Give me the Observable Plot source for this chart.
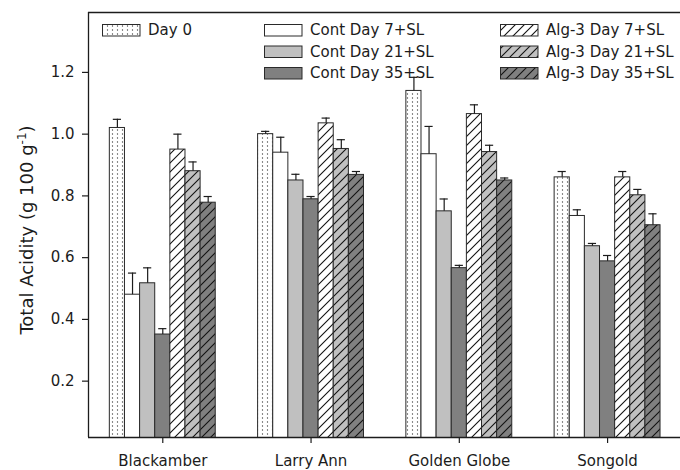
<!DOCTYPE html>
<html>
<head>
<meta charset="utf-8">
<script src="https://cdn.jsdelivr.net/npm/d3@7"></script>
<script src="https://cdn.jsdelivr.net/npm/@observablehq/plot@0.6"></script>
<style>
  html, body { margin: 0; padding: 0; background: #fff; }
  #chart { position: relative; width: 680px; height: 470px; font-family: "DejaVu Sans", sans-serif; }
  #chart > svg { display: block; }
  #legend { position: absolute; left: 0; top: 0; pointer-events: none; }
</style>
</head>
<body>
<div id="chart"></div>
<script>
// Cultivars on the x axis
const categories = ["Blackamber", "Larry Ann", "Golden Globe", "Songold"];

// Treatments, in bar order within each cultivar
const series = [
  "Day 0",
  "Cont Day 7+SL", "Cont Day 21+SL", "Cont Day 35+SL",
  "Alg-3 Day 7+SL", "Alg-3 Day 21+SL", "Alg-3 Day 35+SL"
];

// Total acidity (g 100 g-1), one value per cultivar
const day0    = [1.02, 1.00, 1.14, 0.86];
const cont7   = [0.48, 0.94, 0.935, 0.735];
const cont21  = [0.517, 0.85, 0.75, 0.637];
const cont35  = [0.351, 0.789, 0.566, 0.588];
const alg7    = [0.95, 1.035, 1.065, 0.86];
const alg21   = [0.88, 0.952, 0.942, 0.802];
const alg35   = [0.778, 0.868, 0.85, 0.705];

// Standard errors (upper whiskers)
const day0Err   = [0.028, 0.009, 0.044, 0.019];
const cont7Err  = [0.07, 0.05, 0.09, 0.02];
const cont21Err = [0.05, 0.02, 0.04, 0.009];
const cont35Err = [0.019, 0.009, 0.009, 0.019];
const alg7Err   = [0.05, 0.017, 0.03, 0.019];
const alg21Err  = [0.03, 0.03, 0.022, 0.019];
const alg35Err  = [0.02, 0.011, 0.008, 0.037];

const yTicks = [0.2, 0.4, 0.6, 0.8, 1.0, 1.2];

const seriesValues = [day0, cont7, cont21, cont35, alg7, alg21, alg35];
const seriesErrors = [day0Err, cont7Err, cont21Err, cont35Err, alg7Err, alg21Err, alg35Err];

// Fills: plain greys and SVG patterns (dots, diagonal hatching)
const seriesFills = [
  "url(#dots)", "#ffffff", "#c0c0c0", "#808080",
  "url(#hatch-white)", "url(#hatch-light)", "url(#hatch-dark)"
];

// Layout in bar-width units: 7 adjacent bars per cultivar, then a gap
const BARS = series.length;
const GAP = 2.8;
const STEP = BARS + GAP;
const CAP = 0.27;
const xMin = -1.41;
const xMax = (categories.length - 1) * STEP + BARS + 1.32;
const yMin = 0.0175, yMax = 1.394;

const rows = [];
categories.forEach((c, ci) => {
  series.forEach((s, si) => {
    const x1 = ci * STEP + si;
    rows.push({
      category: c, series: s, si,
      value: seriesValues[si][ci],
      err: seriesErrors[si][ci],
      x1, x2: x1 + 1, xc: x1 + 0.5
    });
  });
});

const ink = "#1c1c1c";

const plot = Plot.plot({
  width: 680,
  height: 470,
  marginLeft: 88,
  marginRight: 0,
  marginTop: 12,
  marginBottom: 33,
  style: {fontFamily: "'DejaVu Sans', sans-serif", fontSize: "15px", color: ink, background: "white", overflow: "visible"},
  x: {type: "linear", domain: [xMin, xMax]},
  y: {domain: [yMin, yMax]},
  marks: [
    ...series.map((s, si) =>
      Plot.rect(rows.filter(r => r.si === si), {
        x1: "x1", x2: "x2", y1: 0, y2: "value",
        fill: seriesFills[si], stroke: "#2a2a2a", strokeWidth: 1, clip: true
      })
    ),
    Plot.ruleX(rows, {x: "xc", y1: "value", y2: d => d.value + d.err, stroke: ink, strokeWidth: 1.2}),
    Plot.ruleY(rows, {y: d => d.value + d.err, x1: d => d.xc - CAP, x2: d => d.xc + CAP, stroke: ink, strokeWidth: 1.2}),
    Plot.axisY({ticks: yTicks, tickFormat: d => d.toFixed(1), tickSize: 6, tickPadding: 8, strokeWidth: 1.2, label: null}),
    Plot.axisX({
      ticks: categories.map((c, i) => i * STEP + BARS / 2),
      tickFormat: d => categories[Math.round((d - BARS / 2) / STEP)],
      tickSize: 6, tickPadding: 12, strokeWidth: 1.2, label: null
    }),
    Plot.ruleX([xMin], {stroke: ink, strokeWidth: 1.3}),
    Plot.ruleY([yMin, yMax], {stroke: ink, strokeWidth: 1.3})
  ]
});

// Pattern definitions used by the bars and the legend swatches
const svg = d3.select(plot);
const defs = svg.insert("defs", ":first-child");

const dots = defs.append("pattern").attr("id", "dots")
  .attr("patternUnits", "userSpaceOnUse").attr("width", 5).attr("height", 4);
dots.append("rect").attr("width", 5).attr("height", 4).attr("fill", "#fff");
dots.append("circle").attr("cx", 2.5).attr("cy", 2).attr("r", 0.65).attr("fill", "#444");

[["hatch-white", "#ffffff"], ["hatch-light", "#c0c0c0"], ["hatch-dark", "#808080"]].forEach(([id, bg]) => {
  const p = defs.append("pattern").attr("id", id)
    .attr("patternUnits", "userSpaceOnUse").attr("width", 9).attr("height", 9);
  p.append("rect").attr("width", 9).attr("height", 9).attr("fill", bg);
  p.append("path").attr("d", "M-1,1L1,-1M0,9L9,0M8,10L10,8")
    .attr("stroke", "#111").attr("stroke-width", 1.1);
});

// Y axis title with superscript unit
const title = svg.append("text")
  .attr("transform", "translate(33,230) rotate(-90)")
  .attr("text-anchor", "middle")
  .attr("font-size", 18)
  .attr("fill", ink);
title.append("tspan").text("Total Acidity (g 100 g");
title.append("tspan").attr("dy", -7).attr("font-size", 12).text("-1");
title.append("tspan").attr("dy", 7).text(")");

const chart = document.getElementById("chart");
chart.appendChild(plot);

// Legend: Day 0 alone, then control and Alg-3 columns
const legendCols = [102, 264, 500];
const legendRows = [30, 51.5, 73];
const legendPlace = [[0, 0], [1, 0], [1, 1], [1, 2], [2, 0], [2, 1], [2, 2]];

const legend = d3.select(chart).append("svg")
  .attr("id", "legend").attr("width", 680).attr("height", 95)
  .style("font-family", "'DejaVu Sans', sans-serif").style("font-size", "15px");

series.forEach((s, si) => {
  const [col, row] = legendPlace[si];
  const x = legendCols[col], cy = legendRows[row];
  const g = legend.append("g");
  g.append("rect").attr("x", x + 0.5).attr("y", cy - 5.5).attr("width", 37.5).attr("height", 11.5)
    .attr("fill", seriesFills[si]).attr("stroke", "#2a2a2a").attr("stroke-width", 1);
  g.append("text").attr("x", x + 46).attr("y", cy).attr("dy", "0.36em")
    .attr("fill", ink).text(s);
});
</script>
</body>
</html>
